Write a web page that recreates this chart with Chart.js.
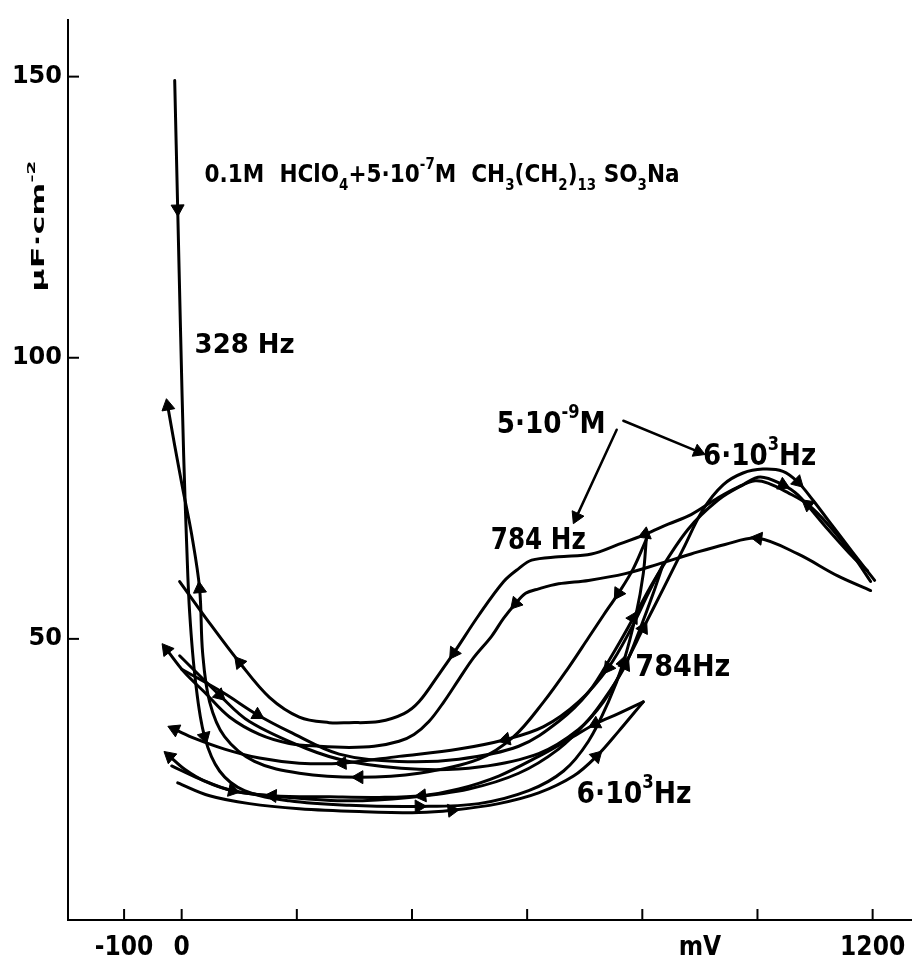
<!DOCTYPE html>
<html><head><meta charset="utf-8">
<script src="https://cdn.jsdelivr.net/npm/chart.js@4/dist/chart.umd.min.js"></script>
<style>html,body{margin:0;padding:0;background:#fff}#wrap{width:920px;height:967px}</style>
</head><body><div id="wrap"><canvas id="c" width="920" height="967"></canvas></div>
<script>
// ---- axis ticks ----
const xTickValues = [-100, 0, 200, 400, 600, 800, 900, 1000, 1200];
const xTickLabels = ['-100', '0', '', '', '', '', 'mV', '', '1200'];
const xTickMarks = [-100, 0, 200, 400, 600, 800, 1000, 1200];
const yTickValues = [50, 100, 150];
const yTickLabels = ['50', '100', '150'];

// ---- curves: potential (mV) and capacity (uF cm-2) ----
// 5e-9 M, 784 Hz, cathodic
const s1_mV = [1196.5,1165.4,1122.1,1087.4,1052.8,1018.2,995.7,966.2,931.6,884.8,845,805.2,758.4,711.7,654.5,607.8,585.3,559.3,516,472.7,446.8,412.1,386.1,342.9,290.9,256.3,204.3,152.4,100.4,48.5,-3.5];
const s1_C  = [60.2,64.9,70.4,73.9,76,77.7,78.1,77,75.1,72.1,70.4,68.6,66.8,65.1,64.6,64,62.5,60.2,54.2,47.5,43.7,38.8,36.7,35.3,35.1,35.1,36.1,39.6,45.8,52.8,60.2];
const s1_arrows = [3, 11, 19, 28];
// 5e-9 M, 784 Hz, anodic
const s2_mV = [0,71,131.6,187,273.6,377.5,481.4,585.3,654.5,706.5,749.8,784.4,827.7,879.6,931.6,974.9,1005,1044.2,1070.1,1122.1,1165.4,1191.3];
const s2_C  = [44.6,40.5,36.5,33.5,29.5,28.2,28.6,30.9,35.3,40.5,47.5,53.7,61.6,69.5,74.7,77.4,78.8,77.4,75.6,69.5,64.6,62.1];
const s2_arrows = [2, 11, 17];
// 5e-9 M, 6e3 Hz, anodic
const s3_mV = [-3.5,65.8,117.7,216.5,290.9,412.1,516,619.9,689.2,732.5,767.1,801.7,836.3,871,905.6,940.3,974.9,1009.5,1044.2,1070.1,1096.1,1122.1,1165.4,1203.5];
const s3_C  = [47,40,35.3,30.5,28.2,26.8,27.2,29.6,33.9,38.8,44.9,51.9,58.9,66,73,77.4,79.5,80.2,79.8,77.9,74.7,71.2,65.4,60.4];
const s3_arrows = [1, 11, 19];
// 5e-9 M, 6e3 Hz, cathodic
const s4_mV = [1196.5,1139.4,1070.1,1000.9,943.7,884.8,827.7,770.5,706.5,654.5,619.9,597.4,580.1,559.3,538.5,507.4,481.4,455.4,429.4,403.5,377.5,334.2,290.9,239,187,135.1,83.1,39.8,5.2,-26];
const s4_C  = [58.6,61.2,65.1,67.9,66.8,65.1,63.3,61.6,60.4,59.8,58.9,58.1,56.3,53.7,50.5,46.7,42.8,38.8,35.3,33,31.8,30.9,30.7,30.9,31.4,33,36.1,40.5,44,48.1];
const s4_arrows = [3, 12, 29];
// 5e-7 M, 328 Hz, anodic
const s5_mV = [-12.1,-6.9,-1.7,3.5,8.7,13.9,24.2,39.8,65.8,109.1,187,290.9,412.1,516,602.6,663.2,706.5,741.1,767.1,789.6,801.7,806.9];
const s5_C  = [149.3,126.5,103.7,82.6,66.8,54.6,42.3,32.6,26.5,23,21.2,20.4,20.2,20.7,23,26.5,31.8,38.8,45.8,54.6,61.6,67.7];
const s5_arrows = [1, 7, 12, 18];
// 5e-7 M, 328 Hz, cathodic
const s6_mV = [806.9,784.4,758.4,732.5,706.5,671.9,628.6,576.6,516,412.1,308.2,204.3,126.4,74.5,48.5,36.4,31.2,17.3,1.7,-12.1,-24.2];
const s6_C  = [67.7,62.5,58.1,54.2,50.2,44.9,38.8,32.6,28.6,26.1,25.4,26.1,28.2,32.6,38.8,47.5,58.9,68.6,76.8,84.4,91.4];
const s6_arrows = [2, 10, 16, 20];
// 5e-7 M, 784 Hz, anodic
const s7_mV = [-17.3,31.2,88.3,187,290.9,394.8,498.7,585.3,654.5,706.5,744.6,770.5,796.5,819,836.3];
const s7_C  = [27.4,25.1,23,21.8,21.2,21.8,23.3,26.1,30.4,35.6,40.9,45.3,51.9,58.1,63.3];
const s7_arrows = [2, 11];
// 5e-7 M, 784 Hz, cathodic
const s8_mV = [836.3,810.4,781,741.1,689.2,628.6,562.8,481.4,377.5,278.8,204.3,135.1,74.5,22.5,-12.1];
const s8_C  = [63.3,58.1,51.9,44.9,38.8,34.4,32.1,30.4,29.1,27.9,27.9,28.8,30.4,32.3,33.9];
const s8_arrows = [3, 6, 9, 14];
// 5e-7 M, 6e3 Hz, anodic
const s9_mV = [-6.9,48.5,117.7,204.3,308.2,412.1,469.3,550.6,619.9,680.5,720.4,758.4,801.7];
const s9_C  = [24.4,22.1,20.7,19.8,19.3,19.1,19.5,20.7,22.6,25.6,29.1,33.5,38.8];
const s9_arrows = [6, 10];
// 5e-7 M, 6e3 Hz, cathodic
const s10_mV = [801.7,758.4,718.6,671.9,619.9,550.6,481.4,417.3,342.9,256.3,157.6,88.3,39.8,5.2,-20.8];
const s10_C  = [38.8,36.7,34.9,32.1,29.1,25.6,23.3,22.1,21.8,21.9,22.1,23,24.7,26.8,29.1];
const s10_arrows = [2, 7, 10, 14];
// pointer arrows from the "5·10⁻⁹M" label
const p1_mV = [755.5, 685.7];
const p1_C  = [87.2, 71.7];
const p2_mV = [767.1, 897];
const p2_C  = [88.8, 83.3];

const curves = [
  [s1_mV, s1_C, s1_arrows], [s2_mV, s2_C, s2_arrows], [s3_mV, s3_C, s3_arrows],
  [s4_mV, s4_C, s4_arrows], [s5_mV, s5_C, s5_arrows], [s6_mV, s6_C, s6_arrows],
  [s7_mV, s7_C, s7_arrows], [s8_mV, s8_C, s8_arrows], [s9_mV, s9_C, s9_arrows],
  [s10_mV, s10_C, s10_arrows]
];
const pointers = [[p1_mV, p1_C, [1]], [p2_mV, p2_C, [1]]];

function arrowAngle(ctx) {
  const ch = ctx.chart, xs = ch.scales.x, ys = ch.scales.y;
  const d = ctx.dataset.data, i = ctx.dataIndex;
  if (!xs || !ys || !d[i]) return 0;
  const a = d[Math.max(0, i - 1)], b = d[Math.min(d.length - 1, i + 1)];
  const dx = xs.getPixelForValue(b.x) - xs.getPixelForValue(a.x);
  const dy = ys.getPixelForValue(b.y) - ys.getPixelForValue(a.y);
  return Math.atan2(dx, -dy) * 180 / Math.PI;
}
function makeSet(mv, c, arrows, width, tension) {
  return {
    data: mv.map((x, i) => ({ x: x, y: c[i] })),
    showLine: true, borderColor: '#000', backgroundColor: '#000',
    borderWidth: width, tension: tension, borderCapStyle: 'round', borderJoinStyle: 'round',
    pointStyle: 'triangle',
    pointRadius: ctx => arrows.includes(ctx.dataIndex) ? 7.5 : 0,
    pointRotation: arrowAngle,
    pointBackgroundColor: '#000', pointBorderColor: '#000', pointBorderWidth: 1,
    pointHoverRadius: 0
  };
}
const datasets = curves.map(s => makeSet(s[0], s[1], s[2], 3, 0.35))
  .concat(pointers.map(s => makeSet(s[0], s[1], s[2], 2.5, 0)));

// ---- text annotations (anchor: left edge, vertical centre, in data units) ----
const FONT = "'DejaVu Sans', sans-serif";
const notes = [
  { x: 39.8, y: 132.9, size: 25, w: 475, parts: [['0.1M  HClO'], ['4', 'sub'], ['+5·10'], ['-7', 'sup'], ['M  CH'], ['3', 'sub'], ['(CH'], ['2', 'sub'], [')'], ['13', 'sub'], [' SO'], ['3', 'sub'], ['Na']] },
  { x: 22.5, y: 102.5, size: 27, w: 100, parts: [['328 Hz']] },
  { x: 547.2, y: 88.6, size: 30, w: 109, parts: [['5·10'], ['-9', 'sup'], ['M']] },
  { x: 905.6, y: 82.8, size: 30, w: 113, parts: [['6·10'], ['3', 'sup'], ['Hz']] },
  { x: 536.8, y: 68.0, size: 31, w: 95, parts: [['784 Hz']] },
  { x: 787.9, y: 45.4, size: 31, w: 95, parts: [['784Hz']] },
  { x: 685.7, y: 22.7, size: 30, w: 115, parts: [['6·10'], ['3', 'sup'], ['Hz']] }
];
const yTitle = { y: 123.4, size: 18, w: 131, parts: [['μF·cm'], ['-2', 'sup']] };

function richWidth(ctx, parts, size) {
  let w = 0;
  parts.forEach(p => {
    const s = p[1] ? size * 0.62 : size;
    ctx.font = 'bold ' + s + 'px ' + FONT;
    w += ctx.measureText(p[0]).width;
  });
  return w;
}
function drawRich(ctx, parts, size, targetW) {
  const total = richWidth(ctx, parts, size);
  const sx = targetW / total;
  ctx.save();
  ctx.scale(sx, 1);
  let cx = 0;
  const base = size * 0.36;
  ctx.textBaseline = 'alphabetic';
  ctx.textAlign = 'left';
  parts.forEach(p => {
    const s = p[1] ? size * 0.62 : size;
    ctx.font = 'bold ' + s + 'px ' + FONT;
    let yy = base;
    if (p[1] === 'sub') yy = base + size * 0.32;
    if (p[1] === 'sup') yy = base - size * 0.5;
    ctx.fillText(p[0], cx, yy);
    cx += ctx.measureText(p[0]).width;
  });
  ctx.restore();
}

const decor = {
  id: 'decor',
  beforeDraw(chart) {
    const c = chart.ctx;
    c.save(); c.fillStyle = '#fff'; c.fillRect(0, 0, chart.width, chart.height); c.restore();
  },
  afterDraw(chart) {
    const c = chart.ctx, xs = chart.scales.x, ys = chart.scales.y, a = chart.chartArea;
    c.save();
    c.strokeStyle = '#000'; c.lineWidth = 2;
    xTickMarks.forEach(v => {
      const px = xs.getPixelForValue(v);
      c.beginPath(); c.moveTo(px, a.bottom); c.lineTo(px, a.bottom - 11); c.stroke();
    });
    yTickValues.forEach(v => {
      const py = ys.getPixelForValue(v);
      c.beginPath(); c.moveTo(a.left, py); c.lineTo(a.left + 11, py); c.stroke();
    });
    c.fillStyle = '#000';
    notes.forEach(n => {
      c.save();
      c.translate(xs.getPixelForValue(n.x), ys.getPixelForValue(n.y));
      drawRich(c, n.parts, n.size, n.w);
      c.restore();
    });
    c.save();
    c.translate(a.left - 30, ys.getPixelForValue(yTitle.y));
    c.rotate(-Math.PI / 2);
    c.translate(-yTitle.w / 2, 0);
    drawRich(c, yTitle.parts, yTitle.size, yTitle.w);
    c.restore();
    c.restore();
  }
};

new Chart(document.getElementById('c'), {
  type: 'scatter',
  data: { datasets: datasets },
  plugins: [decor],
  options: {
    responsive: false, animation: false, devicePixelRatio: 1,
    events: [],
    layout: { padding: { top: 10, right: 6, left: 0, bottom: 0 } },
    plugins: { legend: { display: false }, tooltip: { enabled: false } },
    scales: {
      x: {
        type: 'linear', min: -197.4, max: 1267.5,
        grid: { display: false, drawTicks: false },
        border: { display: true, color: '#000', width: 2 },
        afterBuildTicks: s => { s.ticks = xTickValues.map(v => ({ value: v })); },
        afterFit: s => { s.height = 47; },
        ticks: {
          autoSkip: false, maxRotation: 0, minRotation: 0, padding: 13, color: '#000',
          font: { family: "'DejaVu Sans Condensed', 'DejaVu Sans', sans-serif", weight: 'bold', size: 26 },
          callback: v => { const i = xTickValues.indexOf(v); return i >= 0 ? xTickLabels[i] : ''; }
        }
      },
      y: {
        type: 'linear', min: 0, max: 160,
        grid: { display: false, drawTicks: false },
        border: { display: true, color: '#000', width: 2 },
        afterBuildTicks: s => { s.ticks = yTickValues.map(v => ({ value: v })); },
        afterFit: s => { s.width = 68; },
        ticks: {
          autoSkip: false, padding: 6, color: '#000',
          font: { family: FONT, weight: 'bold', size: 24 },
          callback: v => { const i = yTickValues.indexOf(v); return i >= 0 ? yTickLabels[i] : ''; }
        }
      }
    }
  }
});
</script>
</body></html>
